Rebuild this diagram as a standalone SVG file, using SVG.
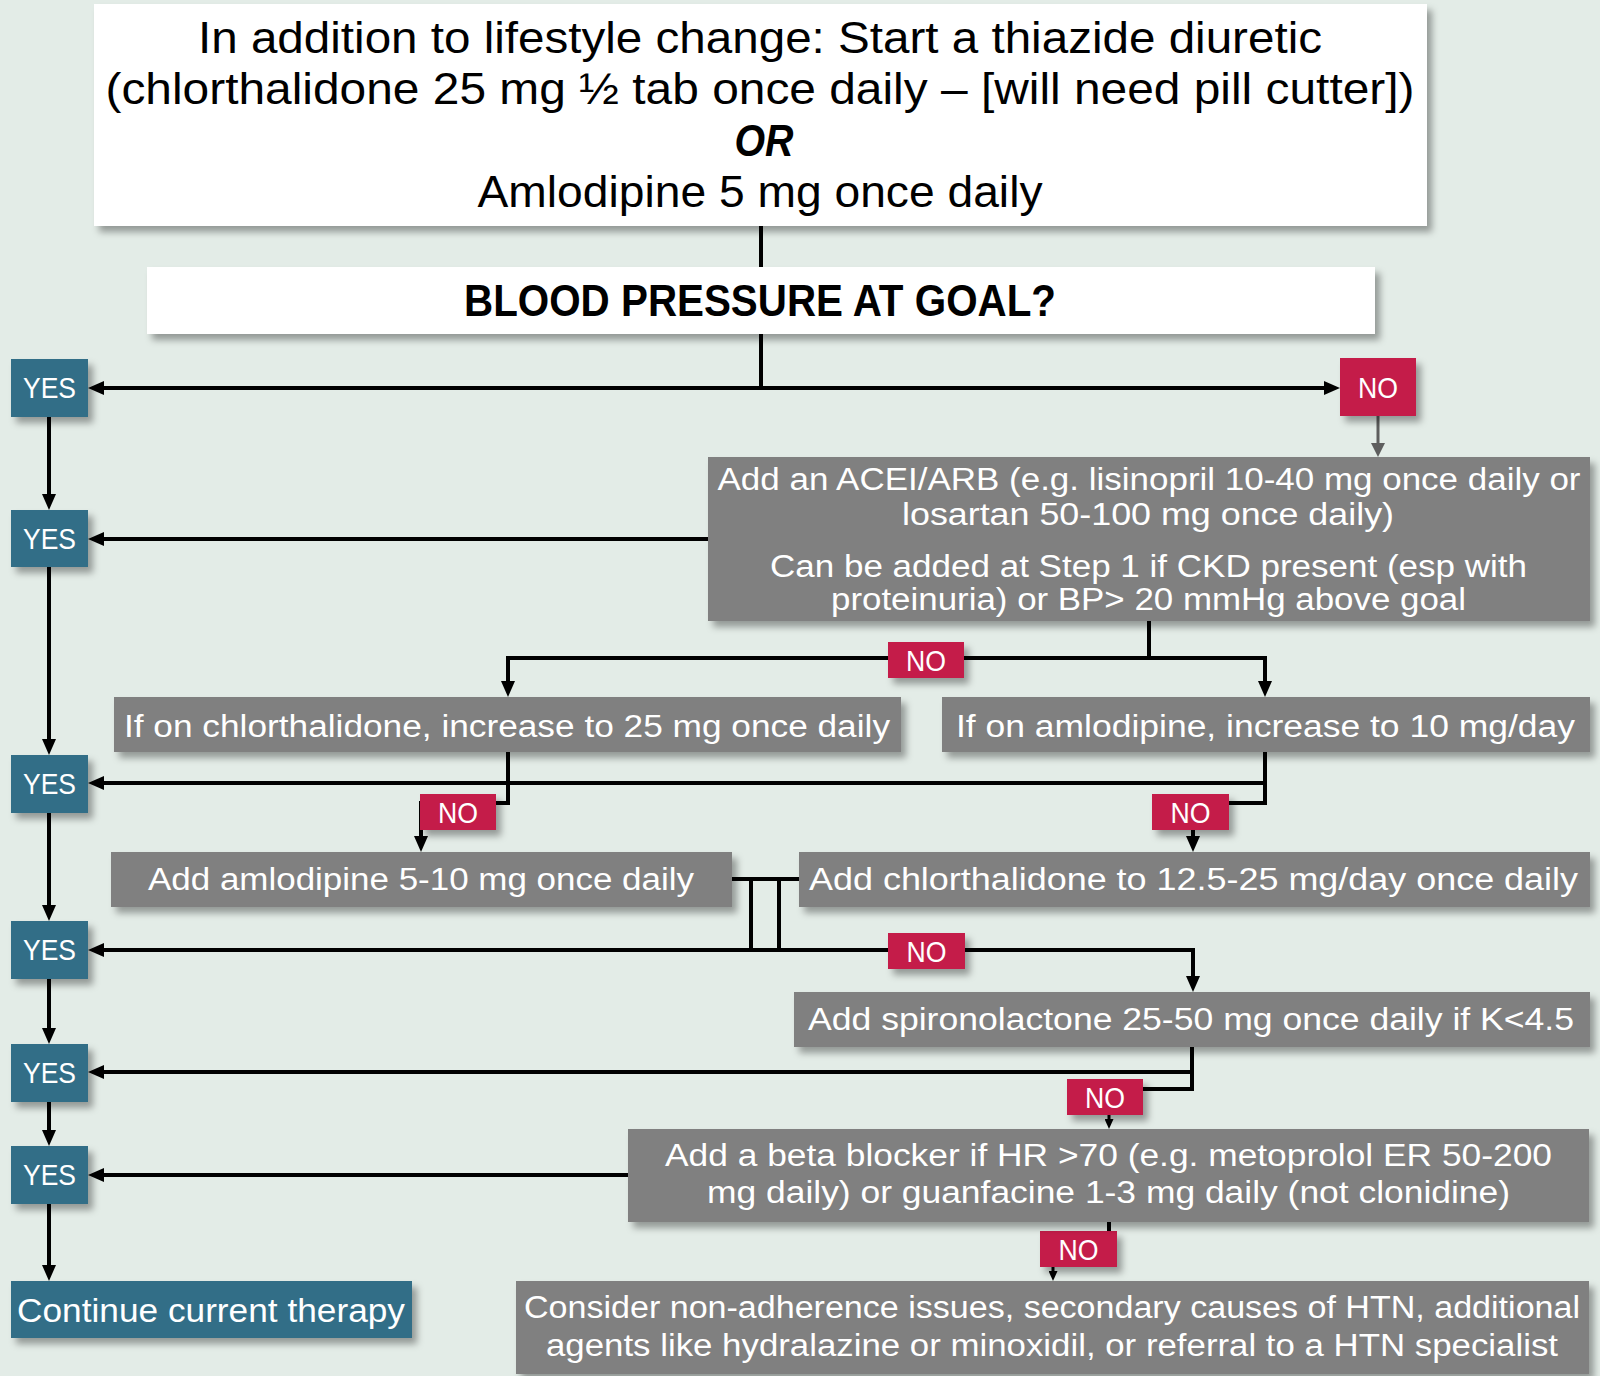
<svg xmlns="http://www.w3.org/2000/svg" width="1600" height="1376" viewBox="0 0 1600 1376">
<defs>
<filter id="sh" x="-10%" y="-20%" width="130%" height="160%"><feDropShadow dx="5" dy="6" stdDeviation="3.5" flood-color="#000" flood-opacity="0.35"/></filter>
<marker id="ah" viewBox="0 0 16 14" refX="6" refY="7" markerWidth="16" markerHeight="14" orient="auto" markerUnits="userSpaceOnUse"><path d="M0,0 L16,7 L0,14 Z" fill="#000"/></marker>
<marker id="ahs" viewBox="0 0 10 9" refX="3" refY="4.5" markerWidth="10" markerHeight="9" orient="auto" markerUnits="userSpaceOnUse"><path d="M0,0 L10,4.5 L0,9 Z" fill="#000"/></marker>
<marker id="ahg" viewBox="0 0 14 14" refX="4" refY="7" markerWidth="14" markerHeight="14" orient="auto" markerUnits="userSpaceOnUse"><path d="M0,0 L14,7 L0,14 Z" fill="#5e5e5e"/></marker>
</defs>
<style>
.bg{fill:#e3ece7}
.w{fill:#fff;filter:url(#sh)}
.g{fill:#808080;filter:url(#sh)}
.y{fill:#336e87;filter:url(#sh)}
.n{fill:#c41e4a;filter:url(#sh)}
text{font-family:"Liberation Sans",Arial,sans-serif;text-anchor:middle}
.tb{font-size:44px;fill:#000}
.tw{font-size:31px;fill:#fff}
.lbl{font-size:30px;fill:#fff}
.c{fill:none;stroke:#000;stroke-width:4;stroke-linejoin:miter}
.a{marker-end:url(#ah)}
.as{marker-end:url(#ahs);stroke-width:3}
.ag{fill:none;stroke:#5e5e5e;stroke-width:3;marker-end:url(#ahg)}
</style>
<rect class="bg" x="0" y="0" width="1600" height="1376"/>

<g id="connectors">
<path class="c" d="M761,226 V267"/>
<path class="c" d="M761,334 V388"/>
<path class="c a" d="M761,388 H98"/>
<path class="c a" d="M761,388 H1330"/>
<path class="c a" d="M49,417 V500"/>
<path class="ag" d="M1378,416 V447"/>
<path class="c a" d="M708,539 H98"/>
<path class="c a" d="M49,567 V745"/>
<path class="c a" d="M1149,621 V658 H508 V687"/>
<path class="c a" d="M1149,658 H1265 V687"/>
<path class="c a" d="M508,752 V803 H421 V842"/>
<path class="c a" d="M1265,752 V803 H1193 V842"/>
<path class="c a" d="M1265,783 H98"/>
<path class="c a" d="M49,813 V911"/>
<path class="c" d="M732,879 H799"/>
<path class="c" d="M751,879 V950"/>
<path class="c" d="M779,879 V950"/>
<path class="c a" d="M751,950 H1193 V982"/>
<path class="c a" d="M751,950 H98"/>
<path class="c a" d="M49,979 V1034"/>
<path class="c" d="M1192,1047 V1089 H1143"/>
<path class="c a" d="M1192,1072 H98"/>
<path class="c as" d="M1109,1115 V1122"/>
<path class="c a" d="M49,1102 V1136"/>
<path class="c a" d="M628,1175 H98"/>
<path class="c a" d="M49,1204 V1271"/>
<path class="c" d="M1109,1222 V1233"/>
<path class="c as" d="M1053,1267 V1274"/>
</g>

<g id="start">
<rect class="w" x="94" y="4" width="1333" height="222"/>
<text class="tb" x="760" y="53" textLength="1124" lengthAdjust="spacingAndGlyphs">In addition to lifestyle change: Start a thiazide diuretic</text>
<text class="tb" x="760" y="104" textLength="1309" lengthAdjust="spacingAndGlyphs">(chlorthalidone 25 mg ½ tab once daily – [will need pill cutter])</text>
<text class="tb" x="764" y="156" font-style="italic" font-weight="bold" textLength="59" lengthAdjust="spacingAndGlyphs">OR</text>
<text class="tb" x="760" y="207" textLength="565" lengthAdjust="spacingAndGlyphs">Amlodipine 5 mg once daily</text>
</g>

<g id="bp-goal">
<rect class="w" x="147" y="267" width="1228" height="67"/>
<text class="tb" x="760" y="316" font-weight="bold" textLength="592" lengthAdjust="spacingAndGlyphs">BLOOD PRESSURE AT GOAL?</text>
</g>

<g id="yes1"><rect class="y" x="11" y="359" width="77" height="58"/><text class="lbl" x="49.5" y="398" textLength="53" lengthAdjust="spacingAndGlyphs">YES</text></g>
<g id="yes2"><rect class="y" x="11" y="510" width="77" height="57"/><text class="lbl" x="49.5" y="549" textLength="53" lengthAdjust="spacingAndGlyphs">YES</text></g>
<g id="yes3"><rect class="y" x="11" y="755" width="77" height="58"/><text class="lbl" x="49.5" y="794" textLength="53" lengthAdjust="spacingAndGlyphs">YES</text></g>
<g id="yes4"><rect class="y" x="11" y="921" width="77" height="58"/><text class="lbl" x="49.5" y="960" textLength="53" lengthAdjust="spacingAndGlyphs">YES</text></g>
<g id="yes5"><rect class="y" x="11" y="1044" width="77" height="58"/><text class="lbl" x="49.5" y="1083" textLength="53" lengthAdjust="spacingAndGlyphs">YES</text></g>
<g id="yes6"><rect class="y" x="11" y="1146" width="77" height="58"/><text class="lbl" x="49.5" y="1185" textLength="53" lengthAdjust="spacingAndGlyphs">YES</text></g>

<g id="no1"><rect class="n" x="1340" y="358" width="76" height="58"/><text class="lbl" x="1378" y="398" textLength="40" lengthAdjust="spacingAndGlyphs">NO</text></g>
<g id="no2"><rect class="n" x="888" y="642" width="76" height="36"/><text class="lbl" x="926" y="671" textLength="40" lengthAdjust="spacingAndGlyphs">NO</text></g>
<g id="no3"><rect class="n" x="420" y="794" width="76" height="36"/><text class="lbl" x="458" y="823" textLength="40" lengthAdjust="spacingAndGlyphs">NO</text></g>
<g id="no4"><rect class="n" x="1152" y="794" width="77" height="36"/><text class="lbl" x="1190.5" y="823" textLength="40" lengthAdjust="spacingAndGlyphs">NO</text></g>
<g id="no5"><rect class="n" x="888" y="933" width="77" height="36"/><text class="lbl" x="926.5" y="962" textLength="40" lengthAdjust="spacingAndGlyphs">NO</text></g>
<g id="no6"><rect class="n" x="1067" y="1079" width="76" height="36"/><text class="lbl" x="1105" y="1108" textLength="40" lengthAdjust="spacingAndGlyphs">NO</text></g>
<g id="no7"><rect class="n" x="1040" y="1231" width="77" height="36"/><text class="lbl" x="1078.5" y="1260" textLength="40" lengthAdjust="spacingAndGlyphs">NO</text></g>

<g id="acei">
<rect class="g" x="708" y="457" width="882" height="164"/>
<text class="tw" x="1149" y="490" textLength="863" lengthAdjust="spacingAndGlyphs">Add an ACEI/ARB (e.g. lisinopril 10-40 mg once daily or</text>
<text class="tw" x="1148" y="525" textLength="492" lengthAdjust="spacingAndGlyphs">losartan 50-100 mg once daily)</text>
<text class="tw" x="1148.5" y="577" textLength="757" lengthAdjust="spacingAndGlyphs">Can be added at Step 1 if CKD present (esp with</text>
<text class="tw" x="1148.5" y="610" textLength="635" lengthAdjust="spacingAndGlyphs">proteinuria) or BP&gt; 20 mmHg above goal</text>
</g>

<g id="increase-chlorthalidone">
<rect class="g" x="114" y="697" width="787" height="55"/>
<text class="tw" x="507" y="737" textLength="766" lengthAdjust="spacingAndGlyphs">If on chlorthalidone, increase to 25 mg once daily</text>
</g>
<g id="increase-amlodipine">
<rect class="g" x="942" y="697" width="648" height="55"/>
<text class="tw" x="1265.5" y="737" textLength="619" lengthAdjust="spacingAndGlyphs">If on amlodipine, increase to 10 mg/day</text>
</g>
<g id="add-amlodipine">
<rect class="g" x="111" y="852" width="621" height="55"/>
<text class="tw" x="421" y="890" textLength="546" lengthAdjust="spacingAndGlyphs">Add amlodipine 5-10 mg once daily</text>
</g>
<g id="add-chlorthalidone">
<rect class="g" x="799" y="852" width="791" height="55"/>
<text class="tw" x="1193.5" y="890" textLength="769" lengthAdjust="spacingAndGlyphs">Add chlorthalidone to 12.5-25 mg/day once daily</text>
</g>
<g id="spironolactone">
<rect class="g" x="794" y="992" width="796" height="55"/>
<text class="tw" x="1191" y="1030" textLength="766" lengthAdjust="spacingAndGlyphs">Add spironolactone 25-50 mg once daily if K&lt;4.5</text>
</g>
<g id="beta-blocker">
<rect class="g" x="628" y="1129" width="961" height="93"/>
<text class="tw" x="1108.5" y="1166" textLength="887" lengthAdjust="spacingAndGlyphs">Add a beta blocker if HR &gt;70 (e.g. metoprolol ER 50-200</text>
<text class="tw" x="1108.5" y="1203" textLength="803" lengthAdjust="spacingAndGlyphs">mg daily) or guanfacine 1-3 mg daily (not clonidine)</text>
</g>
<g id="consider">
<rect class="g" x="516" y="1281" width="1073" height="93"/>
<text class="tw" x="1052" y="1318" textLength="1056" lengthAdjust="spacingAndGlyphs">Consider non-adherence issues, secondary causes of HTN, additional</text>
<text class="tw" x="1052" y="1356" textLength="1012" lengthAdjust="spacingAndGlyphs">agents like hydralazine or minoxidil, or referral to a HTN specialist</text>
</g>
<g id="continue">
<rect class="y" x="11" y="1281" width="401" height="57"/>
<text class="lbl" x="211" y="1322" font-size="33" style="font-size:33px" textLength="388" lengthAdjust="spacingAndGlyphs">Continue current therapy</text>
</g>
</svg>
